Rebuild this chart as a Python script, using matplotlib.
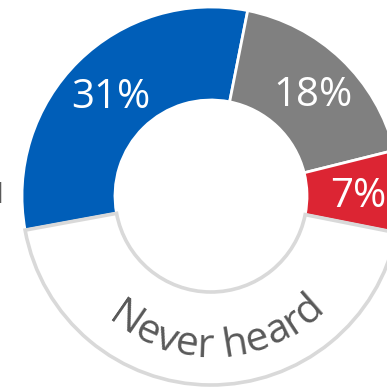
import numpy as np
import matplotlib
matplotlib.use("Agg")
import matplotlib.pyplot as plt
from matplotlib.font_manager import FontProperties
from matplotlib.textpath import TextToPath

labels = ["Aware, used", "Aware, not used", "Lapsed", "Never heard"]
shares = [31, 18, 7, 44]
colors = ["#005EB8", "#808080", "#DC2533", "#FFFFFF"]
pct_labels = ["31%", "18%", "7%"]

W, H = 387, 388
fig = plt.figure(figsize=(W / 100, H / 100), dpi=100)
ax = fig.add_axes([0, 0, 1, 1])

cx, cy = 211, H - 196
r_out, r_in = 189, 96
ring = r_out - r_in

wedges, _ = ax.pie(shares, colors=colors, startangle=190.4, counterclock=False,
                   center=(cx, cy), radius=r_out, frame=True,
                   wedgeprops=dict(width=ring, edgecolor="white", linewidth=2))
ax.set_xlim(0, W)
ax.set_ylim(0, H)
ax.set_aspect("equal")
ax.axis("off")

# outlined "never heard" segment sits above the others
wedges[3].set_edgecolor("#D9D9D9")
wedges[3].set_linewidth(2.6)
wedges[3].set_zorder(5)

font = "Open Sans"
fs = 29
cap = 15  # half the cap height in pixels
for w, txt in zip(wedges[:3], pct_labels):
    mid = np.deg2rad((w.theta1 + w.theta2) / 2)
    rr = 145
    ax.text(cx + rr * np.cos(mid) + 2, cy + rr * np.sin(mid) - cap, txt,
            color="white", fontsize=fs, family=font, ha="center",
            va="baseline", zorder=6)

# curved label along the bottom of the ring
prop = FontProperties(family=font, size=29.5)
t2p = TextToPath()
px = 100 / 72


def text_width(s):
    if not s:
        return 0.0
    w, _, _ = t2p.get_text_width_height_descent(s, prop, ismath=False)
    return w * px


curved = labels[3]
R = 161
spacing = 0.3
total = text_width(curved) + spacing * (len(curved) - 1)
mid_angle = -87.3
start = np.deg2rad(mid_angle) - (total / 2) / R
for i, ch in enumerate(curved):
    if ch == " ":
        continue
    centre = (text_width(curved[:i]) + text_width(curved[:i + 1])) / 2 + spacing * i
    a = start + centre / R
    ax.text(cx + R * np.cos(a), cy + R * np.sin(a), ch, color="#595959",
            fontproperties=prop, ha="center", va="baseline",
            rotation=np.rad2deg(a) + 90, rotation_mode="anchor", zorder=7)

# tail of a label placed left of the ring
ax.text(3.5, H - 203, "Heard", color="#595959", fontsize=20, family=font,
        ha="right", va="baseline")

fig.savefig("out.png", dpi=100)
